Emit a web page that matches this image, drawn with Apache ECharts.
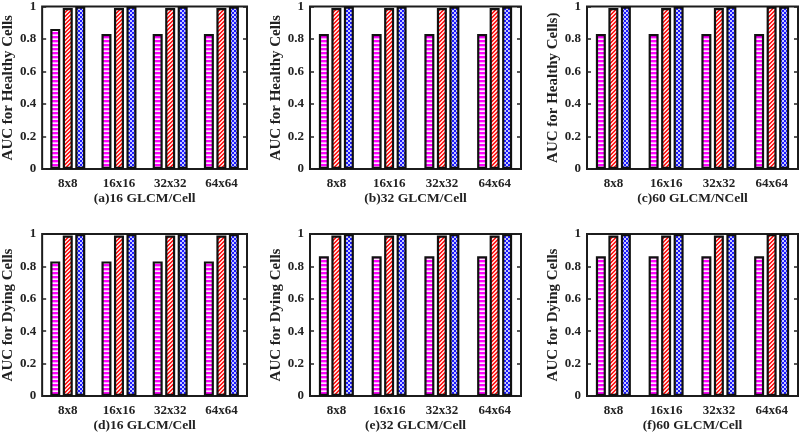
<!DOCTYPE html>
<html>
<head>
<meta charset="utf-8">
<script src="https://cdn.jsdelivr.net/npm/echarts@6/dist/echarts.min.js"></script>
<style>
html,body{margin:0;padding:0;background:#fff;}
#chart{width:800px;height:434px;}
</style>
</head>
<body>
<div id="chart"></div>
<script>
// ---- data ----
const categories = ['8x8', '16x16', '32x32', '64x64'];
const yTicks = [0, 0.2, 0.4, 0.6, 0.8, 1];
const panelTitles = ['(a)16 GLCM/Cell', '(b)32 GLCM/Cell', '(c)60 GLCM/NCell',
                     '(d)16 GLCM/Cell', '(e)32 GLCM/Cell', '(f)60 GLCM/Cell'];
const yTitles = ['AUC for Healthy Cells', 'AUC for Healthy Cells', 'AUC for Healthy Cells)',
                 'AUC for Dying Cells', 'AUC for Dying Cells', 'AUC for Dying Cells'];

const magenta_a = [0.862, 0.831, 0.831, 0.831];
const red_a     = [0.99, 0.99, 0.99, 0.99];
const blue_a    = [1, 1, 1, 1];

const magenta_b = [0.831, 0.831, 0.831, 0.831];
const red_b     = [0.99, 0.99, 0.99, 0.99];
const blue_b    = [1, 1, 1, 1];

const magenta_c = [0.831, 0.831, 0.831, 0.831];
const red_c     = [0.99, 0.99, 0.99, 1];
const blue_c    = [1, 1, 1, 1];

const magenta_d = [0.831, 0.831, 0.831, 0.831];
const red_d     = [0.99, 0.99, 0.99, 0.99];
const blue_d    = [1, 1, 1, 1];

const magenta_e = [0.862, 0.862, 0.862, 0.862];
const red_e     = [0.99, 0.99, 0.99, 0.99];
const blue_e    = [1, 1, 1, 1];

const magenta_f = [0.862, 0.862, 0.862, 0.862];
const red_f     = [0.99, 0.99, 0.99, 1];
const blue_f    = [1, 1, 1, 1];

const magentaSets = [magenta_a, magenta_b, magenta_c, magenta_d, magenta_e, magenta_f];
const redSets     = [red_a, red_b, red_c, red_d, red_e, red_f];
const blueSets    = [blue_a, blue_b, blue_c, blue_d, blue_e, blue_f];

// ---- patterns ----
function makePattern(w, h, fn) {
  const c = document.createElement('canvas');
  c.width = w; c.height = h;
  const ctx = c.getContext('2d');
  for (let y = 0; y < h; y++) {
    for (let x = 0; x < w; x++) {
      ctx.fillStyle = fn(x, y);
      ctx.fillRect(x, y, 1, 1);
    }
  }
  return { image: c, repeat: 'repeat' };
}
const magentaPat = makePattern(4, 4, (x, y) => (y < 2 ? '#ff00ff' : (y === 2 ? '#ff9cff' : '#ffe8ff')));
const redPat = makePattern(4, 4, (x, y) => (((x + y) % 4) < 2 ? '#ff1a1a' : '#ffd8d8'));
const bluePat = makePattern(4, 4, (x, y) => (((Math.floor(x / 2) + Math.floor(y / 2)) % 2) === 0 ? '#1a1aff' : '#c8c8ff'));

// ---- layout ----
const colLeft = [35, 310, 587];
const colWidth = [212, 211, 211];
const rowTop = [6, 234];
const rowHeight = 163;
const FONT = 'Liberation Serif';

const option = { animation: false, grid: [], xAxis: [], yAxis: [], series: [] };

for (let i = 0; i < 6; i++) {
  const col = i % 3, row = Math.floor(i / 3);
  option.grid.push({
    left: colLeft[col], top: rowTop[row], width: colWidth[col], height: rowHeight,
    show: true, borderColor: '#1c1c1c', borderWidth: 2, backgroundColor: '#fff'
  });
  option.xAxis.push({
    type: 'category', gridIndex: i, data: categories,
    axisLine: { show: false }, axisTick: { show: false },
    axisLabel: { fontFamily: FONT, fontWeight: 'bold', fontSize: 13, color: '#222', margin: 8 },
    name: panelTitles[i], nameLocation: 'middle', nameGap: 23,
    nameTextStyle: { fontFamily: FONT, fontWeight: 'bold', fontSize: 13.5, color: '#222' }
  });
  option.yAxis.push({
    type: 'value', gridIndex: i, min: yTicks[0], max: yTicks[yTicks.length - 1], interval: 0.2,
    axisLine: { show: false },
    axisTick: { show: true, inside: true, length: 4, lineStyle: { color: '#222', width: 1.5 } },
    splitLine: { show: false },
    axisLabel: { fontFamily: FONT, fontWeight: 'bold', fontSize: 13, color: '#222', margin: 6 },
    name: yTitles[i], nameLocation: 'middle', nameGap: 19, nameRotate: 90,
    nameTextStyle: { fontFamily: FONT, fontWeight: 'bold', fontSize: 15, color: '#222' }
  });
  option.yAxis.push({
    type: 'value', gridIndex: i, position: 'right', min: yTicks[0], max: yTicks[yTicks.length - 1], interval: 0.2,
    axisLine: { show: false },
    axisTick: { show: true, inside: true, length: 4, lineStyle: { color: '#222', width: 1.5 } },
    splitLine: { show: false }, axisLabel: { show: false }
  });
  const sets = [[magentaSets[i], magentaPat, 'Series 1'], [redSets[i], redPat, 'Series 2'], [blueSets[i], bluePat, 'Series 3']];
  sets.forEach(([vals, pat, nm]) => {
    option.series.push({
      type: 'bar', name: nm, xAxisIndex: i, yAxisIndex: 2 * i, data: vals,
      barWidth: 10, barGap: '25%',
      itemStyle: { color: pat, borderColor: '#111', borderWidth: 2.2 }
    });
  });
}

const chart = echarts.init(document.getElementById('chart'), null, { renderer: 'canvas' });
chart.setOption(option);
</script>
</body>
</html>
